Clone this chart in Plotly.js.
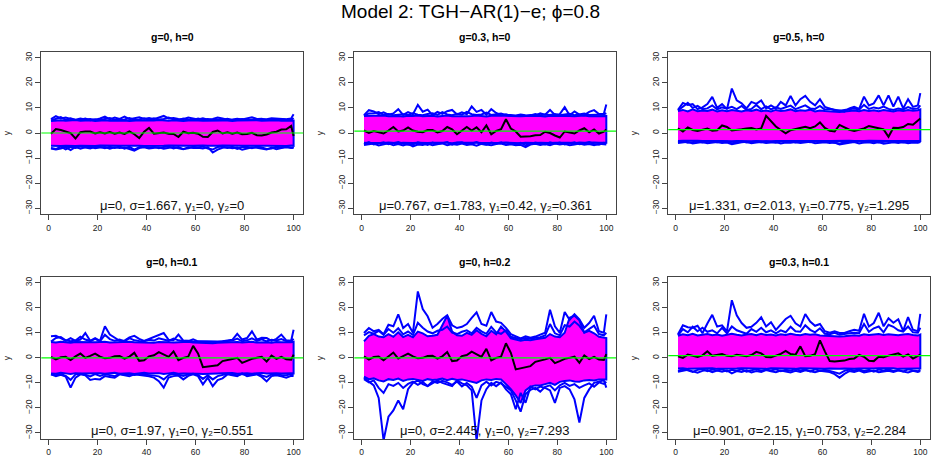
<!DOCTYPE html>
<html>
<head>
<meta charset="utf-8">
<script src="https://cdn.plot.ly/plotly-3.0.1.min.js"></script>
<style>
  html, body { margin: 0; padding: 0; background: #fff; }
  #chart { width: 941px; height: 471px; }
</style>
</head>
<body>
<div id="chart"></div>
<script>
// time index (every other step, plus the last one)
const xs = [1, 3, 5, 7, 9, 11, 13, 15, 17, 19,
  21, 23, 25, 27, 29, 31, 33, 35, 37, 39,
  41, 43, 45, 47, 49, 51, 53, 55, 57, 59,
  61, 63, 65, 67, 69, 71, 73, 75, 77, 79,
  81, 83, 85, 87, 89, 91, 93, 95, 97, 99,
  100];

const panelTitles = ['g=0, h=0', 'g=0.3, h=0', 'g=0.5, h=0', 'g=0, h=0.1', 'g=0, h=0.2', 'g=0.3, h=0.1'];
const panelMeans = [0, 0.767, 1.331, 0, 0, 0.901];
const panelStats = [
  'μ=0, σ=1.667, γ₁=0, γ₂=0',
  'μ=0.767, σ=1.783, γ₁=0.42, γ₂=0.361',
  'μ=1.331, σ=2.013, γ₁=0.775, γ₂=1.295',
  'μ=0, σ=1.97, γ₁=0, γ₂=0.551',
  'μ=0, σ=2.445, γ₁=0, γ₂=7.293',
  'μ=0.901, σ=2.15, γ₁=0.753, γ₂=2.284'
];
const xTicks = [0, 20, 40, 60, 80, 100];
const yTicks = [-30, -20, -10, 0, 10, 20, 30];

// ---- panel 1: g=0, h=0
const p1M = [-0.3, 1.6, 1.2, 0.5, 0, -2.2, 0.3, 0.6, 0.6, -0.2,
  0.3, -0.2, 0.4, -0.3, 0.2, -0.4, 0.6, -0.5, -2, 0.5,
  2, -0.3, -0.2, 0.2, -0.3, -0.4, -1.6, 0.5, -0.1, 0.1,
  -0.3, -1.5, -1.6, 0.4, 1, -0.2, 0.3, -0.3, 0.2, -0.5,
  -0.4, 0.1, -0.9, -1, -0.6, 0.2, 0.5, 1.4, 1.5, 2.8,
  -1.2];
const p1U2 = [5.5, 6.7, 5.8, 6.2, 5.6, 5.3, 5.8, 5.4, 5.6, 5.2,
  5.8, 6.5, 5.4, 6.2, 5.6, 6.5, 5.5, 5.8, 6.3, 5.6,
  6, 5.5, 6.2, 6.8, 5.8, 6, 5.6, 5.5, 6.2, 5.7,
  5.4, 5.9, 5.3, 5.6, 6.2, 5.8, 5.3, 5.4, 5.7, 5.4,
  5.9, 6.3, 5.6, 5.4, 5.5, 5.9, 5.7, 5.4, 5.5, 5.8,
  7.5];
const p1U1 = [5, 5.8, 6.3, 5.2, 5.9, 5.2, 5.3, 5.8, 5.1, 5.5,
  5.2, 5.6, 6, 5.3, 5.5, 5.4, 6, 5.3, 5.4, 5.9,
  5.3, 5.9, 5.4, 5.6, 6.2, 5.4, 5.2, 5.8, 5.4, 5.2,
  5.8, 5.3, 5.6, 5.2, 5.4, 5.3, 5.7, 5.2, 5.3, 5.6,
  5.2, 5.4, 5.3, 5.7, 5.2, 5.3, 5.2, 5.6, 5.3, 5.2,
  6];
const p1U = [4.8, 5, 5.1, 4.9, 5, 5.2, 4.9, 5, 5.1, 4.8,
  5, 5.1, 4.9, 5, 5.2, 5, 4.8, 5, 5.1, 5,
  4.9, 5, 5.2, 5, 4.9, 5.1, 5, 4.8, 5, 5.1,
  5, 4.9, 5, 5.1, 4.9, 5, 5, 4.8, 5, 5.1,
  4.9, 5, 5.1, 4.9, 5, 5, 5.1, 4.9, 5, 5,
  5];
const p1L = [-5.1, -5, -5.2, -5.1, -5, -5.2, -5.1, -5, -5.1, -5.2,
  -5, -5.1, -5.2, -5, -5.1, -5.1, -5.2, -5, -5.1, -5.2,
  -5.1, -5, -5.2, -5.1, -5, -5.1, -5.2, -5, -5.1, -5.1,
  -5.2, -5, -5.1, -5.2, -5.1, -5, -5.1, -5.2, -5, -5.1,
  -5.1, -5.2, -5, -5.1, -5.1, -5.2, -5, -5.1, -5.2, -5,
  -5.1];
const p1L1 = [-6, -6.4, -5.4, -6.5, -5.5, -6, -5.4, -5.8, -6.2, -5.5,
  -5.6, -6.1, -5.5, -6, -5.4, -6.2, -5.5, -6.6, -5.7, -5.4,
  -6, -5.5, -6.1, -5.6, -5.4, -6.2, -5.6, -6.4, -6.1, -5.5,
  -5.8, -5.4, -6.2, -6.6, -5.6, -5.4, -6, -5.5, -6.3, -5.6,
  -5.5, -6.1, -5.4, -5.8, -6.4, -6.2, -5.5, -5.8, -5.4, -6,
  -5.6];
const p1L2 = [-6.2, -6.6, -6.2, -5.6, -6.8, -5.5, -6.3, -5.7, -5.5, -6.1,
  -5.8, -5.6, -6.3, -5.7, -6, -5.8, -6.4, -7, -6, -5.7,
  -6.2, -5.8, -5.7, -6.3, -5.9, -5.6, -6.1, -6.5, -5.7, -6,
  -5.9, -6.2, -5.6, -7.8, -6.6, -5.9, -5.7, -6.1, -5.8, -6.7,
  -6.2, -5.7, -5.9, -6.1, -6.6, -5.8, -6.5, -6, -5.7, -5.9,
  -6];

// ---- panel 2: g=0.3, h=0
const p2M = [1, 0, 0.8, 0.2, -0.2, 1, 2.4, 0.6, 1, 2.2,
  1, 0.5, 0.3, 1.2, 1.2, 0.2, 0.8, 2.4, 1.5, -0.5,
  1, 2.4, 1, 2.3, 0.3, 3, -0.5, 0.8, 1.5, 5.5,
  1.8, 0.6, -1.5, -1.5, -1.3, -0.9, -0.8, 0.5, 0, -1,
  -1.8, 0.6, 0.3, -0.2, 1, 1.9, 0.3, 1.4, -0.2, 0.5,
  1.4];
const p2U2 = [7.1, 9.1, 8.6, 7.5, 8.2, 7.3, 7.8, 9.5, 7.2, 8.3,
  7.5, 11.2, 8.5, 9.3, 7.1, 8.4, 7.6, 8.7, 9.2, 7.4,
  8.2, 7.5, 10.6, 8.4, 9.2, 7.3, 9.5, 8, 7.1, 7.5,
  6.8, 6.7, 6.9, 6.8, 7.2, 6.9, 7.8, 7.3, 9.2, 7.2,
  7.5, 10.3, 7.1, 8.6, 7.3, 7.1, 8.4, 9.1, 7.6, 7.7,
  11.4];
const p2U1 = [6.8, 7.8, 7.9, 8.3, 7.2, 7.6, 7.1, 7.4, 7.5, 7.2,
  7.9, 7.3, 7.1, 7.6, 7.9, 7.2, 8.3, 7.4, 7.1, 7.7,
  7.3, 8.4, 7.5, 7.2, 7.4, 8.1, 7.2, 7.5, 7.8, 7.1,
  7.2, 7, 7.4, 7.1, 7, 7.6, 7.1, 7.4, 7.2, 7.6,
  7.1, 7.4, 7.7, 7.1, 7.5, 7.8, 7.2, 7.3, 7.1, 7.4,
  7.9];
const p2U = [6.8, 6.9, 6.7, 6.8, 7, 6.7, 6.9, 6.8, 6.6, 6.9,
  6.8, 7, 6.7, 6.8, 6.9, 6.6, 6.8, 7, 6.7, 6.8,
  6.9, 6.7, 6.8, 7, 6.8, 6.6, 6.9, 6.8, 6.7, 6.9,
  6.8, 6.6, 6.7, 6.8, 6.9, 6.7, 6.8, 6.6, 6.9, 6.8,
  6.7, 6.9, 6.8, 6.7, 6.8, 7, 6.7, 6.8, 6.9, 6.8,
  6.8];
const p2L = [-3.9, -4, -3.8, -3.9, -4, -3.8, -3.9, -4.1, -3.9, -3.8,
  -4, -3.9, -3.8, -4, -3.9, -3.8, -4, -3.9, -4.1, -3.8,
  -3.9, -4, -3.8, -3.9, -4, -3.9, -3.8, -4, -3.9, -3.8,
  -4, -3.9, -4.1, -3.9, -3.8, -4, -3.9, -3.8, -4, -3.9,
  -3.8, -4, -3.9, -4.1, -3.8, -3.9, -4, -3.8, -3.9, -4,
  -3.9];
const p2L1 = [-4.4, -3.6, -4.6, -4, -3.7, -4.5, -4.1, -3.6, -4.3, -4.7,
  -4.6, -3.7, -4.2, -4.8, -3.8, -4.4, -4.1, -3.6, -4.6, -3.9,
  -3.7, -4.5, -4.2, -3.6, -4.4, -4.7, -3.8, -4.2, -3.7, -4.6,
  -4.1, -4.6, -3.9, -4.9, -4.4, -3.8, -4.2, -4.6, -3.7, -4.3,
  -3.8, -4.6, -4.1, -3.7, -4.5, -4.2, -3.6, -4.4, -4.7, -3.9,
  -4.2];
const p2L2 = [-4.8, -4.5, -4.2, -5, -4.6, -4.1, -4.9, -4.4, -5, -4.3,
  -5.3, -4.6, -4.8, -4.2, -4.9, -4.5, -4.1, -4.9, -4.4, -4.7,
  -4.2, -4.8, -4.5, -5.1, -4.3, -4.6, -4.9, -4.4, -4.2, -4.8,
  -4.5, -4.9, -4.7, -5.6, -4.6, -4.3, -4.8, -4.4, -4.9, -4.2,
  -4.6, -4.3, -4.9, -4.6, -4.2, -4.7, -4.4, -4.9, -4.3, -4.5,
  -4.6];

// ---- panel 3: g=0.5, h=0
const p3M = [1.9, 0.6, 2.2, 1.2, 0.8, 1.2, 1.8, 0.9, 1.1, 3,
  2.4, 1, 1.1, 1.5, 1.8, 2, 1.4, 1.8, 6.8, 4.8,
  2.6, 1.2, -0.1, 1.1, 1.5, 1.8, 2.5, 1.9, 2.6, 4.2,
  2, 0.9, 0.6, 3.2, 2.2, 1.3, 0.8, 1.3, 1.8, 2.8,
  2.2, 1.9, 1.4, -1.5, 2.1, 2, 2.4, 3.6, 3.3, 5,
  5.8];
const p3U2 = [9.2, 12, 11.2, 11.5, 9.5, 10.2, 11.5, 14.4, 10, 11.5,
  9.5, 17.7, 13, 11.8, 9.8, 12.4, 11.6, 13, 9.8, 11,
  9.8, 12.4, 11, 14.8, 11, 13.5, 14.8, 12.4, 11, 13.5,
  10.4, 9.8, 9.1, 9, 8.5, 9.8, 10.4, 9.6, 14.5, 11,
  11.8, 15, 11, 15, 10.5, 14.5, 9.8, 13.5, 10.4, 11,
  15.9];
const p3U1 = [9, 10.5, 12, 10, 10.8, 9.5, 9.8, 11, 9.4, 10.2,
  9.8, 10.4, 9.5, 10.8, 9.2, 9.6, 11.2, 9.5, 10.6, 9.4,
  10.2, 9.6, 10.4, 10.9, 9.5, 10.2, 11, 9.8, 9.6, 10.8,
  9.3, 9.7, 9.2, 8.9, 9.2, 9.4, 9.8, 9.3, 11.2, 9.6,
  10.2, 9.8, 10.5, 9.6, 9.2, 9.8, 9.4, 10.3, 9.6, 9.8,
  11];
const p3U = [8.8, 9.2, 8.6, 9.4, 8.7, 9, 8.8, 9.3, 8.6, 9.1,
  8.7, 9.2, 8.9, 8.6, 9.1, 8.8, 9.3, 8.7, 9, 8.6,
  9.2, 8.8, 9, 9.4, 8.7, 9.1, 8.9, 9.3, 8.6, 9,
  8.8, 8.6, 8.7, 8.4, 8.6, 8.8, 9, 8.7, 9.2, 8.8,
  9.1, 8.7, 9.2, 8.9, 8.6, 9.1, 8.8, 9.2, 8.9, 9.1,
  9.4];
const p3L = [-3.2, -3.1, -3.3, -3.2, -3.1, -3.2, -3.3, -3.1, -3.2, -3.2,
  -3.1, -3.3, -3.2, -3.1, -3.2, -3.3, -3.2, -3.1, -3.2, -3.3,
  -3.2, -3.1, -3.2, -3.2, -3.3, -3.1, -3.2, -3.2, -3.1, -3.3,
  -3.2, -3.2, -3.1, -3.3, -3.2, -3.1, -3.2, -3.3, -3.2, -3.1,
  -3.2, -3.3, -3.1, -3.2, -3.2, -3.3, -3.1, -3.2, -3.2, -3.1,
  -3.2];
const p3L1 = [-3.6, -3.3, -3.9, -3.5, -3.4, -3.8, -3.4, -3.3, -3.7, -3.5,
  -3.4, -4.1, -3.6, -3.3, -3.8, -3.5, -3.4, -3.7, -3.3, -3.6,
  -3.9, -3.4, -3.5, -3.3, -3.8, -3.6, -3.4, -3.7, -3.3, -3.5,
  -3.6, -3.4, -3.9, -4.2, -3.8, -3.4, -3.6, -3.3, -3.7, -3.5,
  -3.4, -3.8, -3.5, -3.3, -3.6, -3.4, -3.8, -3.5, -3.3, -3.7,
  -3.4];
const p3L2 = [-4, -3.7, -3.5, -4.2, -3.8, -3.6, -4.1, -3.9, -3.6, -4,
  -3.8, -4.5, -4, -3.7, -3.5, -4.1, -3.8, -3.6, -4, -3.7,
  -3.6, -4.2, -3.8, -3.9, -3.6, -4, -3.7, -3.5, -4.1, -3.8,
  -3.7, -4, -3.8, -4.6, -4.4, -3.9, -3.6, -4.2, -3.8, -3.7,
  -4.1, -3.6, -4.3, -3.9, -3.7, -4, -3.6, -4.1, -3.8, -3.9,
  -3.6];

// ---- panel 4: g=0, h=0.1
const p4M = [0.4, -0.6, 0.2, 0.4, -0.9, 0.6, 1.7, 0, 0.8, 1.7,
  0.5, -0.2, 0, 0.6, 0.7, -0.3, 0.5, 2, -1.2, -1,
  0.6, 1, 2.3, 1.5, 0.4, 2.6, -0.9, 0, 0.5, 4.8,
  1.8, -3.7, -3.4, -3.1, -3, -1.3, -1, -0.5, 0, -2,
  -1.2, -0.4, 0, 0.4, -1.5, 0.9, -0.4, 0.4, -0.6, -0.7,
  1.3];
const p4U2 = [8.6, 8.8, 7.9, 6.8, 7.9, 6.8, 7.3, 9.9, 6.8, 7.9,
  6.8, 12.6, 9.3, 7.9, 6.8, 6.9, 8.2, 8.8, 7.6, 6.8,
  7.6, 8.6, 9.3, 9.9, 7.2, 7, 9.3, 6.9, 6.7, 7.4,
  6.6, 6.5, 6.6, 6.4, 6.5, 6.6, 6.8, 7.2, 9.6, 7.3,
  7.9, 10.6, 7.3, 8, 7.9, 6.8, 7.6, 9.3, 7, 6.8,
  11.2];
const p4U1 = [6.5, 7.9, 8.3, 7, 6.6, 6.9, 8.4, 7.3, 6.7, 7.6,
  6.6, 9.2, 7.5, 6.8, 7.3, 6.6, 7.9, 7, 6.7, 6.6,
  7.2, 6.9, 7.8, 7.4, 6.8, 7.7, 7, 6.7, 6.8, 6.5,
  6.4, 6.3, 6.4, 6.2, 6.3, 6.5, 6.6, 6.9, 7.7, 6.6,
  7, 7.8, 6.8, 7.4, 6.6, 7.2, 6.9, 7.5, 6.7, 6.6,
  7.6];
const p4U = [6.3, 6.1, 6.4, 6.2, 6, 6.3, 6.2, 6.4, 6.1, 6.2,
  6.3, 6.4, 6.1, 6.2, 6, 6.3, 6.4, 6.2, 6.1, 6.3,
  6.2, 6, 6.3, 6.4, 6.2, 6.1, 6.3, 6.2, 6.4, 6.1,
  6, 5.9, 6, 5.8, 6, 6.1, 6.2, 6, 6.3, 6.1,
  6.2, 6.4, 6.1, 6.3, 6.2, 6, 6.3, 6.2, 6.1, 6.2,
  6.4];
const p4L = [-6.2, -6.3, -6, -6.2, -6.4, -6.1, -6.2, -6.3, -6, -6.2,
  -6.1, -6.3, -6.2, -6, -6.3, -6.2, -6.1, -6.4, -6.2, -6,
  -6.2, -6.3, -6.1, -6.4, -6.2, -6, -6.3, -6.2, -6.1, -6.2,
  -6.3, -6.4, -6.5, -6.3, -6.2, -6.1, -6.2, -6, -6.3, -6.2,
  -6.1, -6.3, -6.2, -6, -6.2, -6.3, -6.1, -6.2, -6.3, -6.1,
  -6.2];
const p4L1 = [-6.6, -6.9, -6.5, -7.2, -8.8, -6.6, -6.4, -6.7, -7.4, -6.5,
  -7.2, -6.6, -6.9, -7.3, -6.4, -6.7, -6.5, -6.8, -6.5, -6.6,
  -6.8, -7.1, -7.4, -8.6, -6.9, -6.5, -6.7, -7.2, -6.6, -6.4,
  -6.8, -8.4, -7, -8.6, -7.3, -6.9, -6.4, -6.6, -6.9, -6.5,
  -6.6, -6.8, -6.4, -7, -7.6, -6.6, -6.5, -6.8, -6.9, -6.5,
  -6.8];
const p4L2 = [-6.6, -7.3, -6.8, -7.5, -11.9, -7.9, -6.6, -7, -8.8, -8.4,
  -8.6, -7.3, -7.6, -7.9, -6.6, -7, -7.3, -6.6, -6.9, -7,
  -7.4, -7.9, -9.3, -11.9, -7.9, -7.3, -7.1, -8.6, -7.2, -6.6,
  -7.3, -10.6, -7.9, -11.3, -8.9, -8.2, -6.6, -7, -7.3, -6.2,
  -7.3, -7, -6.6, -7.6, -9.4, -7.3, -7, -7.4, -7.9, -7.2,
  -7.3];

// ---- panel 5: g=0, h=0.2
const p5M = [0.6, -0.7, 0.3, 0.5, -1, 0.7, 2.1, -0.3, 0.8, 1.7,
  0.6, -0.2, 0, 0.7, 0.8, -0.3, 0.6, 2.3, -1.3, -1.1,
  0.7, 1.1, 2.5, 1.6, 0.4, 3.6, -1, 0, 0.5, 5.8,
  2, -4.6, -4.2, -3.7, -3.3, -1.6, -1.2, -0.6, 0, -2.1,
  -1.3, -0.4, 0, 0.5, -2, 1, -0.5, 0.4, -0.7, -0.8,
  1.5];
const p5U2 = [9.9, 11.9, 10.6, 11.2, 9.4, 13.2, 12.6, 17.4, 11.9, 13.5,
  10, 26.5, 19.5, 16.6, 12, 13.5, 15.5, 17, 13, 11.9,
  12.4, 13.5, 16, 18.2, 13.5, 12.8, 18.3, 14.5, 14, 12,
  9.5, 8.5, 7.8, 8.6, 8, 8.5, 9.2, 10, 19.2, 12.6,
  10, 18.3, 15.2, 17.4, 15.4, 12, 13.9, 16.8, 10.6, 10,
  17.4];
const p5U1 = [9, 10.3, 9.6, 10.8, 9.2, 11.5, 10, 11.8, 9.4, 10.5,
  9.1, 14, 12, 10.5, 9.8, 10.8, 11.2, 12.5, 10.1, 9.5,
  10.4, 11, 9.8, 12, 10.6, 9.6, 12.4, 10.2, 9.6, 11,
  8.4, 7.8, 7.4, 7.9, 7.6, 8, 8.2, 8.9, 13.5, 9.8,
  9, 13, 12.5, 14.5, 12.8, 10.2, 11.4, 12.8, 9.5, 9,
  10];
const p5U = [6.6, 8.8, 9.5, 8.5, 8.2, 9.5, 8.4, 10.2, 8.3, 9.2,
  8.2, 10.5, 9.8, 8.6, 8.8, 9.2, 13, 16.8, 10.5, 9,
  8.8, 10, 9.2, 11, 9.6, 8.6, 10.8, 9.4, 12.5, 10.5,
  7.8, 7.2, 6.8, 7.2, 7, 7.4, 7.6, 8, 9.5, 8.5,
  8.2, 10, 16, 16.8, 15, 10, 10.8, 9.8, 8.4, 8,
  7.9];
const p5L = [-7.5, -8.5, -8.2, -9, -9.4, -8.5, -8.8, -8.3, -9.2, -8.6,
  -8.4, -8.8, -9.2, -8.5, -8.8, -8.6, -8.3, -8.9, -8.4, -8.8,
  -8.6, -9, -9.5, -10, -9, -8.6, -8.8, -8.4, -8.6, -10.5,
  -12.5, -15, -18, -13, -11.5, -11, -11, -10.5, -10, -10.8,
  -9.6, -9.2, -9, -9.4, -9.5, -9, -8.8, -9, -8.6, -8.5,
  -8.6];
const p5L1 = [-8.5, -9.8, -9, -12, -14, -10.5, -11.2, -10, -12, -10.4,
  -9.5, -10.8, -9.6, -11.2, -9.4, -10, -9.2, -9.8, -10.8, -9.5,
  -11.4, -10, -11.5, -16, -11, -9.5, -11, -9.6, -10.2, -11.5,
  -13, -17, -21.5, -14.5, -12.8, -12, -13.5, -11.6, -11, -13,
  -11, -10, -11.2, -10.5, -12, -11, -10.2, -11.5, -9.8, -10.4,
  -9.5];
const p5L2 = [-7.9, -9.3, -11, -16, -33, -23.5, -21, -17, -20.5, -12.5,
  -10, -9, -10.5, -11.3, -10.2, -9, -10, -10.5, -11.3, -9,
  -10.2, -11, -13, -33, -17, -12.5, -10, -11.3, -9.8, -12.6,
  -14.5, -20.5, -14, -17.9, -11.5, -12.6, -11.5, -12, -13, -18,
  -12, -11.3, -12.6, -16.6, -25.8, -16, -12.6, -10, -9.4, -9,
  -11.9];

// ---- panel 6: g=0.3, h=0.1
const p6M = [0.6, 0, 1.3, 0.8, 0.4, 1, 2.6, 0.8, 1.2, 1.5,
  0.8, 0.6, 1.2, 0.8, 0.6, 1.1, 2.4, 1.8, 0.3, 0.2,
  1, 1.6, 2.8, 1.5, 1.2, 4.6, 0.7, 0.8, 1.5, 7,
  2.6, -1.3, -1.5, -1.3, -1.1, -0.5, -0.3, 1.2, 0.4, -1.2,
  -1.3, 0.4, 0.2, 0.9, 1.2, 1.8, 0.5, 1.4, -0.3, 0.8,
  1.3];
const p6U2 = [9.4, 13, 12.2, 12, 12.8, 9.8, 13.7, 17.2, 12.5, 13,
  10.6, 23, 17, 13.9, 12, 12.4, 14, 16.2, 12.5, 14.2,
  11.2, 13.5, 15.5, 16.8, 13.8, 12.5, 17.5, 14.5, 12.8, 13.5,
  10.6, 10, 10.6, 9.9, 9.9, 10.6, 11.2, 10.8, 17.6, 12.5,
  13.9, 18, 12.6, 15.8, 14, 15.4, 10.8, 16.3, 11.2, 10.6,
  17.6];
const p6U1 = [9, 11.5, 10.2, 12.4, 10.6, 12, 10.4, 11, 9.8, 12,
  9.8, 12.5, 11, 10.2, 9.6, 11.5, 10.4, 12, 10.2, 11,
  9.8, 11, 10.2, 12.4, 10.6, 10.4, 13, 11.2, 10.2, 11.8,
  9.6, 9.4, 10, 9.2, 9.6, 9.8, 10, 9.8, 13.5, 10.4,
  11.8, 12.5, 10.2, 13.2, 12.4, 11, 10.5, 12.5, 10.2, 10,
  12];
const p6U = [8.8, 9.4, 9, 9.6, 8.9, 9.2, 9.5, 9, 9.3, 8.8,
  9.1, 9.6, 9.2, 8.9, 9.3, 9.5, 9, 9.6, 9.1, 9.3,
  8.9, 9.4, 9.1, 9.6, 9.2, 9, 9.5, 9.2, 9.4, 8.9,
  8.8, 8.6, 8.7, 8.5, 8.6, 8.8, 9, 8.8, 9.4, 9.1,
  9.3, 9.5, 9.1, 9.4, 9.2, 9, 9.3, 9.5, 9.1, 8.9,
  9.3];
const p6L = [-4.3, -4.2, -4.4, -4.3, -4.2, -4.4, -4.3, -4.2, -4.4, -4.3,
  -4.2, -4.4, -4.3, -4.2, -4.3, -4.4, -4.2, -4.3, -4.4, -4.2,
  -4.3, -4.4, -4.2, -4.3, -4.4, -4.2, -4.3, -4.4, -4.2, -4.3,
  -4.4, -4.3, -4.2, -4.4, -4.3, -4.2, -4.4, -4.3, -4.2, -4.4,
  -4.3, -4.2, -4.4, -4.3, -4.2, -4.4, -4.3, -4.2, -4.4, -4.3,
  -4.3];
const p6L1 = [-5.2, -4.6, -5, -5.6, -4.8, -4.5, -5.3, -4.7, -5, -4.6,
  -5.4, -4.8, -5.1, -4.6, -5.5, -4.9, -4.5, -5.2, -4.7, -5,
  -4.6, -5.3, -4.8, -5.1, -4.5, -5, -4.7, -5.4, -4.6, -5.1,
  -4.8, -5.2, -5.8, -6.3, -5.2, -4.7, -5, -4.6, -5.3, -4.8,
  -5.5, -4.7, -5, -4.6, -5.2, -4.8, -5.4, -4.6, -5, -5.3,
  -4.8];
const p6L2 = [-5.6, -5.3, -4.8, -5.4, -5.9, -5.2, -4.9, -5.7, -5.1, -5.5,
  -5, -6.2, -5.3, -5.6, -5, -5.8, -5.3, -5.6, -4.9, -5.4,
  -5.7, -5.1, -5.5, -5.8, -5.2, -5.6, -5, -5.4, -5.7, -5.2,
  -5.4, -5.7, -6.5, -7.9, -6.4, -5.3, -5.6, -5.1, -5.8, -5.4,
  -5.1, -5.7, -5.4, -5.2, -5.6, -5.1, -5.5, -5.8, -5.2, -5.6,
  -5.3];

const panels = [
  { M: p1M, U: p1U, U1: p1U1, U2: p1U2, L: p1L, L1: p1L1, L2: p1L2 },
  { M: p2M, U: p2U, U1: p2U1, U2: p2U2, L: p2L, L1: p2L1, L2: p2L2 },
  { M: p3M, U: p3U, U1: p3U1, U2: p3U2, L: p3L, L1: p3L1, L2: p3L2 },
  { M: p4M, U: p4U, U1: p4U1, U2: p4U2, L: p4L, L1: p4L1, L2: p4L2 },
  { M: p5M, U: p5U, U1: p5U1, U2: p5U2, L: p5L, L1: p5L1, L2: p5L2 },
  { M: p6M, U: p6U, U1: p6U1, U2: p6U2, L: p6L, L1: p6L1, L2: p6L2 }
];

// layout geometry (pixels of the 941x471 page)
const W = 941, H = 471;
const colPx = [[41.3, 303.3], [354.3, 616], [668.3, 930]];
const rowPx = [[51.7, 214.3], [276.7, 439]];
const FONT = 'Liberation Sans, Arial, Helvetica, sans-serif';

const traces = [];
const layout = {
  width: W, height: H,
  margin: { l: 0, r: 0, t: 0, b: 0 },
  paper_bgcolor: '#fff', plot_bgcolor: '#fff',
  showlegend: false,
  font: { family: FONT, color: '#000' },
  annotations: [], shapes: []
};

layout.annotations.push({
  text: 'Model 2: TGH−AR(1)−e; ϕ=0.8', xref: 'paper', yref: 'paper',
  x: 470.5 / W, y: 1 - 12 / H, xanchor: 'center', yanchor: 'middle',
  showarrow: false, font: { size: 19, family: FONT, color: '#000' }
});

const revXs = xs.slice().reverse();

panels.forEach((p, i) => {
  const k = i + 1;
  const col = i % 3, row = Math.floor(i / 3);
  const xa = k === 1 ? 'x' : 'x' + k;
  const ya = k === 1 ? 'y' : 'y' + k;
  const [l, r] = colPx[col];
  const [t, b] = rowPx[row];

  layout[k === 1 ? 'xaxis' : 'xaxis' + k] = {
    domain: [l / W, r / W], anchor: ya,
    range: [-2.96, 103.96], tickvals: xTicks, ticks: 'outside', ticklen: 5,
    tickcolor: '#444', showline: true, mirror: true, linecolor: '#444', linewidth: 1,
    showgrid: false, zeroline: false, fixedrange: true,
    tickfont: { size: 8.5, family: FONT, color: '#222' }
  };
  layout[k === 1 ? 'yaxis' : 'yaxis' + k] = {
    domain: [1 - b / H, 1 - t / H], anchor: xa,
    range: [-32.4, 32.4], tickvals: yTicks, ticks: 'outside', ticklen: 5, tickangle: -90,
    tickcolor: '#444', showline: true, mirror: true, linecolor: '#444', linewidth: 1,
    showgrid: false, zeroline: false, fixedrange: true,
    tickfont: { size: 8.5, family: FONT, color: '#222' }
  };

  // quantile band
  traces.push({
    x: xs.concat(revXs), y: p.U.concat(p.L.slice().reverse()),
    xaxis: xa, yaxis: ya, mode: 'lines', fill: 'toself',
    fillcolor: '#ff00ff', line: { color: '#0000ff', width: 2 }, hoverinfo: 'skip'
  });
  // outer blue paths
  [p.U1, p.U2, p.L1, p.L2].forEach(s => {
    traces.push({
      x: xs, y: s, xaxis: xa, yaxis: ya, mode: 'lines',
      line: { color: '#0000ff', width: 2 }, hoverinfo: 'skip'
    });
  });
  // median path
  traces.push({
    x: xs, y: p.M, xaxis: xa, yaxis: ya, mode: 'lines',
    line: { color: '#000', width: 2 }, hoverinfo: 'skip'
  });

  // mean line
  layout.shapes.push({
    type: 'line', xref: xa + ' domain', yref: ya, x0: 0, x1: 1,
    y0: panelMeans[i], y1: panelMeans[i], layer: 'above',
    line: { color: '#00ff00', width: 1.2 }
  });

  // panel title
  layout.annotations.push({
    text: '<b>' + panelTitles[i] + '</b>', xref: 'paper', yref: 'paper',
    x: (l + r) / 2 / W, y: 1 - (t - 15) / H, xanchor: 'center', yanchor: 'middle',
    showarrow: false, font: { size: 10.5, family: FONT, color: '#000' }
  });
  // y label
  layout.annotations.push({
    text: 'y', xref: 'paper', yref: 'paper', textangle: -90,
    x: (l - 34) / W, y: 1 - (t + b) / 2 / H, xanchor: 'center', yanchor: 'middle',
    showarrow: false, font: { size: 8.5, family: FONT, color: '#222' }
  });
  // moments
  layout.annotations.push({
    text: panelStats[i], xref: xa, yref: ya,
    x: 50.5, y: -28.9, xanchor: 'center', yanchor: 'middle',
    showarrow: false, font: { size: 13, family: FONT, color: '#111' }
  });
});

Plotly.newPlot('chart', traces, layout, { displayModeBar: false, staticPlot: true });
</script>
</body>
</html>
